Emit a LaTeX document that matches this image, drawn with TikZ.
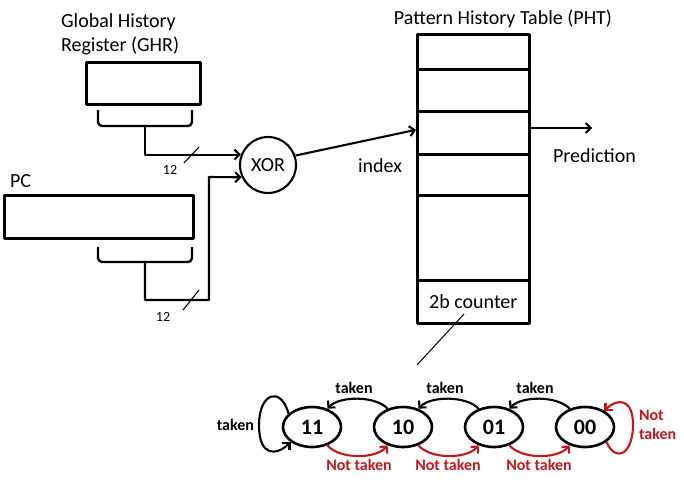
\documentclass[tikz,border=0pt]{standalone}
\usepackage{fontspec}
\setmainfont{Carlito}
\usetikzlibrary{arrows.meta,shapes.geometric,calc}
\definecolor{nred}{RGB}{196,22,28}
\begin{document}
\begin{tikzpicture}[x=1pt,y=-1pt,
  line width=2.1pt, line join=round,
  tip/.style={-{Straight Barb[length=5pt,width=10pt]}},
  lbl/.style={font=\fontsize{20}{22}\selectfont, inner sep=0pt},
  small/.style={font=\fontsize{14}{16}\selectfont, inner sep=0pt},
  regbox/.style={draw, line width=2.6pt, rectangle, inner sep=0pt, anchor=north west},
  row/.style={draw, line width=2.6pt, rectangle, inner sep=0pt, anchor=north west, minimum width=112pt},
  state/.style={draw, ellipse, line width=2.6pt, minimum width=58pt, minimum height=40pt, inner sep=0pt, font=\bfseries\fontsize{22}{24}\selectfont},
  tk/.style={font=\bfseries\fontsize{16}{18}\selectfont, inner sep=0pt},
  ntk/.style={tk, text=nred},
  redarr/.style={tip, draw=nred}
]
\useasboundingbox (0,0) rectangle (684,488);

% texts
\node[lbl, anchor=west, align=left] (ghrlabel) at (60,34) {Global History\\[2pt]Register (GHR)};
\node[lbl, anchor=west] (pclabel) at (9,181) {PC};
\node[lbl] (phtlabel) at (503,19) {Pattern History Table (PHT)};
\node[lbl] (idx) at (380,166) {index};
\node[lbl, anchor=west] (pred) at (552,156) {Prediction};

% registers
\node[regbox, minimum width=114pt, minimum height=42pt] (ghr) at (85,61) {};
\node[regbox, minimum width=189pt, minimum height=43pt] (pc) at (3,194) {};

% braces
\draw[rounded corners=4pt, line width=2.4pt] (98,110) -- (98,126) -- (192,126) -- (192,110);
\draw[rounded corners=4pt, line width=2.4pt] (98,247) -- (98,262) -- (192,262) -- (192,247);
\coordinate (gstem) at (145,126);
\coordinate (pstem) at (145,262);

% XOR
\node[draw, circle, line width=2.1pt, minimum size=56pt, inner sep=0pt, lbl] (xor) at (268,165) {XOR};

% buses
\draw[tip] (gstem) |- (xor.159);
\draw[tip] (pstem) -- (145,300) -| (209,177) -- (xor.205);
\draw[line width=1.1pt] (184,163) -- (199,147);
\draw[line width=1.1pt] (183,310) -- (199,290);
\node[small] (n1) at (170,170) {12};
\node[small] (n2) at (163,317) {12};

% PHT
\node[row, minimum height=35pt] (r1) at (416,33) {};
\node[row, minimum height=42pt] (r2) at (416,68) {};
\node[row, minimum height=43pt] (r3) at (416,110) {};
\node[row, minimum height=41pt] (r4) at (416,153) {};
\node[row, minimum height=85pt] (r5) at (416,194) {};
\node[row, minimum height=43pt] (r6) at (416,279) {};
\node[lbl] (cnt) at (r6.center) {2b counter};

\coordinate (idxend) at ($(r3.west)+(0,-3)$);
\draw[tip] (xor.19) -- (idxend);
\coordinate (predend) at (592,128);
\draw[tip] (r3.east |- predend) -- (predend);

% pointer line
\coordinate (ptop) at (464,314);
\coordinate (pbot) at (417,365);
\draw[line width=1pt] (ptop) -- (pbot);

% states
\node[state] (s11) at (312,427) {11};
\node[state] (s10) at (403,427) {10};
\node[state] (s01) at (494,427) {01};
\node[state] (s00) at (585,427) {00};

% taken (towards 11)
\draw[tip] (s10.130) .. controls +(-12,-13) and +(12,-13) .. (s11.50);
\draw[tip] (s01.130) .. controls +(-12,-13) and +(12,-13) .. (s10.50);
\draw[tip] (s00.130) .. controls +(-12,-13) and +(12,-13) .. (s01.50);
\node[tk] (t1) at (354,388) {taken};
\node[tk] (t2) at (445,388) {taken};
\node[tk] (t3) at (535,388) {taken};

% not taken (towards 00)
\draw[redarr] (s11.-50) .. controls +(12,14) and +(-12,14) .. (s10.-130);
\draw[redarr] (s10.-50) .. controls +(12,14) and +(-12,14) .. (s01.-130);
\draw[redarr] (s01.-50) .. controls +(12,14) and +(-12,14) .. (s00.-130);
\node[ntk] (nt1) at (359,465) {Not taken};
\node[ntk] (nt2) at (448,465) {Not taken};
\node[ntk] (nt3) at (539,465) {Not taken};

% self loops
\coordinate (l11) at (259,425);
\draw[tip] (s11.150) .. controls +(-8,-28) and +(0,-32) .. (l11) .. controls +(0,32) and +(-14,14) .. (s11.215);
\node[tk, anchor=east] (tl) at (255,425) {taken};
\coordinate (l00) at (633,425);
\draw[redarr] (s00.-35) .. controls +(10,22) and +(0,28) .. (l00) .. controls +(0,-28) and +(12,-12) .. (s00.40);
\node[ntk, anchor=west, align=left] (ntl) at (638,425) {Not\\[1pt]taken};
\end{tikzpicture}
\end{document}
